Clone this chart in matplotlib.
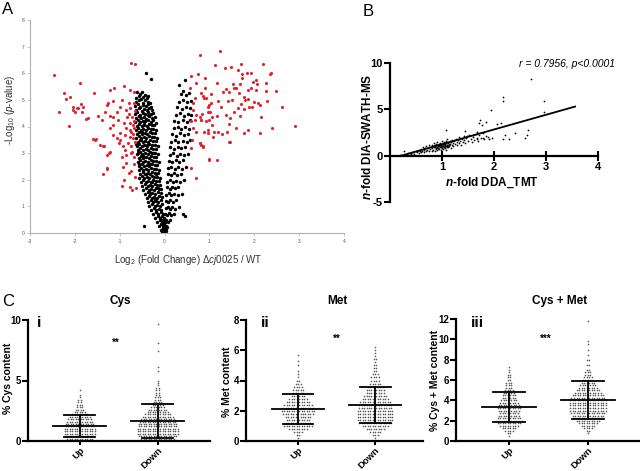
import numpy as np
import matplotlib
matplotlib.use('Agg')
import matplotlib.pyplot as plt

plt.rcParams['font.family'] = ['Liberation Sans', 'DejaVu Sans']
plt.rcParams['mathtext.fontset'] = 'custom'
plt.rcParams['mathtext.rm'] = 'Liberation Sans'
plt.rcParams['mathtext.it'] = 'Liberation Sans:italic'
plt.rcParams['mathtext.bf'] = 'Liberation Sans:italic:bold'
plt.rcParams['axes.unicode_minus'] = False

# ---------------- Panel A: volcano plot ----------------
red_right = [
    (1.23, 6.82), (1.13, 6.30), (1.34, 6.20), (1.48, 6.22), (1.71, 6.34), (2.20, 6.34), (1.63, 6.12),
    (1.73, 5.99), (1.83, 6.00), (1.93, 6.00), (2.34, 5.98), (2.38, 6.00), (1.73, 5.84), (1.17, 5.65),
    (1.52, 5.61), (1.68, 5.59), (1.97, 5.66), (2.03, 5.74), (2.07, 5.59), (2.26, 5.64), (0.91, 5.46),
    (1.37, 5.40), (1.54, 5.44), (1.59, 5.43), (1.86, 5.38), (1.93, 5.43), (2.04, 5.36), (2.26, 5.34),
    (2.49, 5.35), (1.30, 5.28), (1.44, 5.29), (1.65, 5.25), (1.03, 5.23), (0.85, 5.15), (0.93, 5.06),
    (1.19, 4.94), (1.41, 4.96), (1.51, 4.98), (1.77, 5.10), (1.80, 5.00), (1.87, 5.04), (1.99, 4.91),
    (2.08, 4.89), (2.12, 4.81), (2.29, 4.96), (1.04, 4.90), (1.71, 4.84), (1.78, 4.65), (1.89, 4.73),
    (1.95, 4.75), (1.63, 4.71), (2.61, 4.75), (0.97, 4.73), (1.26, 4.73), (1.01, 4.55), (1.05, 4.37),
    (1.17, 4.40), (1.37, 4.43), (1.46, 4.31), (1.55, 4.53), (1.69, 4.41), (2.16, 4.36), (0.84, 4.46),
    (0.82, 4.25), (1.00, 4.25), (1.06, 4.07), (1.43, 4.10), (1.60, 3.95), (1.86, 3.85), (1.76, 3.76),
    (2.40, 3.96), (2.91, 4.01), (2.12, 3.75), (1.28, 3.71), (1.39, 3.80), (1.43, 3.42), (1.46, 3.42),
    (0.78, 3.37), (0.82, 3.31), (0.85, 3.22), (0.98, 2.75), (1.17, 2.75), (1.08, 3.62), (0.97, 3.85),
    (0.97, 3.77), (1.11, 3.81), (1.19, 3.81),
    (0.79, 6.67), (0.59, 5.90), (0.74, 5.97), (0.90, 5.82), (0.70, 5.63), (0.56, 5.46), (0.82, 5.25),
    (0.67, 5.06), (0.89, 5.06), (1.00, 4.81), (0.63, 4.63), (0.70, 4.44), (0.78, 4.37), (0.59, 4.19),
    (0.67, 4.25), (0.82, 4.25), (0.93, 4.19), (0.63, 3.94), (0.70, 3.81), (0.89, 3.81), (0.61, 3.50),
    (0.78, 3.37), (0.85, 3.25), (0.59, 3.18), (0.98, 2.77), (0.59, 2.43), (0.70, 2.06), (0.63, 4.88),
    (0.96, 4.56),
]
red_left = [
    (-2.47, 5.93), (-0.75, 6.40), (-0.67, 6.35), (-1.89, 5.64), (-2.24, 5.25), (-2.20, 5.04), (-2.11, 5.09),
    (-1.58, 5.24), (-1.22, 5.38), (-1.12, 5.44), (-0.91, 5.53), (-0.76, 5.38), (-0.68, 5.28), (-2.35, 4.56),
    (-2.04, 4.75), (-2.04, 4.62), (-1.94, 4.71), (-1.85, 4.56), (-1.81, 4.75), (-1.86, 4.84), (-2.13, 4.02),
    (-1.70, 4.31), (-1.48, 4.40), (-1.40, 4.25), (-1.29, 4.81), (-1.26, 4.88), (-1.16, 4.96), (-0.95, 4.98),
    (-0.80, 4.88), (-0.77, 4.71), (-0.68, 4.88), (-1.33, 4.56), (-1.22, 4.41), (-1.14, 4.37), (-1.06, 4.56),
    (-1.00, 4.75), (-0.85, 4.62), (-0.80, 4.47), (-0.73, 4.37), (-1.03, 4.25), (-1.22, 3.94), (-0.90, 4.12),
    (-0.77, 4.12), (-0.68, 4.21), (-1.14, 4.06), (-0.85, 3.94), (-0.77, 3.87), (-0.68, 3.94), (-1.59, 3.52),
    (-1.55, 3.50), (-1.44, 3.31), (-1.37, 3.25), (-1.16, 3.69), (-1.07, 3.56), (-1.00, 3.75), (-0.89, 3.69),
    (-0.77, 3.62), (-0.70, 3.56), (-0.66, 3.43), (-1.01, 3.37), (-0.92, 3.25), (-0.81, 3.37), (-0.74, 3.25),
    (-1.22, 3.06), (-1.29, 2.93), (-1.23, 2.99), (-0.96, 2.87), (-0.85, 2.93), (-0.75, 2.99), (-0.68, 2.87),
    (-1.29, 2.43), (-1.38, 2.22), (-0.92, 2.49), (-0.85, 2.62), (-0.80, 2.27), (-0.74, 2.31), (-0.66, 2.12),
    (-0.95, 1.77), (-0.77, 1.74), (-0.73, 1.62), (-0.63, 1.68), (-0.91, 1.99), (-1.00, 3.50), (-0.74, 3.81),
    (-0.83, 4.35), (-1.95, 4.70), (-2.00, 4.55), (-1.75, 4.30), (-1.52, 3.52), (-1.35, 3.25), (-1.28, 2.40),
    (-0.70, 4.05), (-0.72, 3.05), (-0.69, 2.60), (-0.71, 3.70), (-0.88, 3.10), (-0.66, 4.60),
]
black_left = [
    (-0.62, 5.28), (-0.55, 5.21), (-0.50, 5.30), (-0.44, 5.18),
    (-0.64, 5.08), (-0.58, 5.13), (-0.52, 5.04), (-0.47, 5.12), (-0.40, 5.06), (-0.36, 5.15),
    (-0.63, 4.92), (-0.56, 4.98), (-0.49, 4.90), (-0.43, 4.99), (-0.37, 4.93), (-0.33, 4.88),
    (-0.66, 4.78), (-0.60, 4.84), (-0.54, 4.75), (-0.48, 4.82), (-0.42, 4.77), (-0.36, 4.85), (-0.30, 4.74),
    (-0.64, 4.62), (-0.58, 4.68), (-0.51, 4.60), (-0.46, 4.67), (-0.40, 4.63), (-0.34, 4.70), (-0.28, 4.61),
    (-0.66, 4.47), (-0.61, 4.53), (-0.55, 4.45), (-0.49, 4.52), (-0.44, 4.48), (-0.38, 4.55), (-0.31, 4.46), (-0.25, 4.51),
    (-0.63, 4.33), (-0.57, 4.38), (-0.52, 4.31), (-0.46, 4.37), (-0.41, 4.30), (-0.35, 4.39), (-0.29, 4.32), (-0.22, 4.36),
    (-0.65, 4.18), (-0.60, 4.24), (-0.54, 4.16), (-0.48, 4.22), (-0.43, 4.19), (-0.37, 4.25), (-0.31, 4.17), (-0.26, 4.23), (-0.20, 4.15),
    (-0.62, 4.03), (-0.57, 4.08), (-0.51, 4.01), (-0.45, 4.07), (-0.40, 4.02), (-0.34, 4.09), (-0.28, 4.04), (-0.23, 4.06),
    (-0.64, 3.88), (-0.59, 3.94), (-0.53, 3.86), (-0.47, 3.92), (-0.42, 3.87), (-0.36, 3.95), (-0.30, 3.89), (-0.25, 3.91), (-0.19, 3.85),
    (-0.61, 3.73), (-0.56, 3.78), (-0.50, 3.71), (-0.44, 3.77), (-0.39, 3.72), (-0.33, 3.79), (-0.27, 3.74), (-0.21, 3.76),
    (-0.63, 3.58), (-0.58, 3.64), (-0.52, 3.56), (-0.46, 3.62), (-0.41, 3.57), (-0.35, 3.65), (-0.29, 3.59), (-0.24, 3.61), (-0.17, 3.55),
    (-0.60, 3.43), (-0.55, 3.48), (-0.49, 3.41), (-0.43, 3.47), (-0.38, 3.42), (-0.32, 3.49), (-0.26, 3.44), (-0.20, 3.46),
    (-0.62, 3.28), (-0.57, 3.34), (-0.51, 3.26), (-0.45, 3.32), (-0.40, 3.27), (-0.34, 3.35), (-0.28, 3.29), (-0.22, 3.31), (-0.15, 3.25),
    (-0.59, 3.13), (-0.54, 3.18), (-0.48, 3.11), (-0.42, 3.17), (-0.37, 3.12), (-0.31, 3.19), (-0.25, 3.14), (-0.19, 3.16),
    (-0.61, 2.98), (-0.55, 3.04), (-0.50, 2.96), (-0.44, 3.02), (-0.38, 2.97), (-0.33, 3.05), (-0.27, 2.99), (-0.21, 3.01), (-0.14, 2.95),
    (-0.58, 2.83), (-0.52, 2.88), (-0.47, 2.81), (-0.41, 2.87), (-0.35, 2.82), (-0.30, 2.89), (-0.24, 2.84), (-0.18, 2.86),
    (-0.60, 2.68), (-0.54, 2.74), (-0.48, 2.66), (-0.43, 2.72), (-0.37, 2.67), (-0.31, 2.75), (-0.26, 2.69), (-0.20, 2.71), (-0.13, 2.65),
    (-0.56, 2.53), (-0.51, 2.58), (-0.45, 2.51), (-0.39, 2.57), (-0.34, 2.52), (-0.28, 2.59), (-0.22, 2.54), (-0.16, 2.56),
    (-0.58, 2.38), (-0.53, 2.44), (-0.47, 2.36), (-0.41, 2.42), (-0.36, 2.37), (-0.30, 2.45), (-0.24, 2.39), (-0.18, 2.41), (-0.12, 2.35),
    (-0.55, 2.23), (-0.49, 2.28), (-0.44, 2.21), (-0.38, 2.27), (-0.32, 2.22), (-0.27, 2.29), (-0.21, 2.24), (-0.15, 2.26),
    (-0.57, 2.08), (-0.51, 2.14), (-0.45, 2.06), (-0.40, 2.12), (-0.34, 2.07), (-0.28, 2.15), (-0.23, 2.09), (-0.17, 2.11), (-0.10, 2.05),
    (-0.53, 1.93), (-0.48, 1.98), (-0.42, 1.91), (-0.36, 1.97), (-0.31, 1.92), (-0.25, 1.99), (-0.19, 1.94), (-0.13, 1.96),
    (-0.50, 1.78), (-0.44, 1.84), (-0.38, 1.76), (-0.33, 1.82), (-0.27, 1.77), (-0.21, 1.85), (-0.16, 1.79), (-0.10, 1.81),
    (-0.47, 1.63), (-0.41, 1.68), (-0.35, 1.61), (-0.30, 1.67), (-0.24, 1.62), (-0.18, 1.69), (-0.12, 1.64), (-0.07, 1.66),
    (-0.44, 1.48), (-0.38, 1.54), (-0.32, 1.46), (-0.27, 1.52), (-0.21, 1.47), (-0.15, 1.55), (-0.09, 1.49),
    (-0.40, 1.33), (-0.34, 1.38), (-0.29, 1.31), (-0.23, 1.37), (-0.17, 1.32), (-0.12, 1.39), (-0.06, 1.34),
    (-0.37, 1.18), (-0.31, 1.24), (-0.25, 1.16), (-0.20, 1.22), (-0.14, 1.17), (-0.08, 1.25),
    (-0.34, 1.03), (-0.28, 1.08), (-0.22, 1.01), (-0.16, 1.07), (-0.10, 1.02), (-0.05, 1.09),
    (-0.30, 0.88), (-0.24, 0.94), (-0.18, 0.86), (-0.12, 0.92), (-0.07, 0.87),
    (-0.26, 0.73), (-0.20, 0.78), (-0.14, 0.71), (-0.09, 0.77), (-0.04, 0.72),
    (-0.21, 0.58), (-0.15, 0.63), (-0.10, 0.56), (-0.05, 0.62), (-0.02, 0.57),
    (-0.16, 0.43), (-0.11, 0.48), (-0.06, 0.41), (-0.03, 0.47),
    (-0.12, 0.28), (-0.07, 0.33), (-0.03, 0.26), (-0.01, 0.31),
    (-0.08, 0.13), (-0.04, 0.18), (-0.02, 0.11), (0.00, 0.16),
    (-0.05, 0.04), (-0.02, 0.07), (0.00, 0.02), (0.02, 0.05),
    (-0.41, 6.00), (-0.30, 5.78), (-0.46, 0.26),
    (-0.03, 0.10), (0.03, 0.15), (-0.01, 0.35), (0.01, 0.45), (0.00, 0.25), (-0.04, 0.20),
    (-0.57, 4.40), (-0.45, 4.10), (-0.53, 3.50), (-0.39, 3.30), (-0.47, 2.90), (-0.33, 2.60),
    (-0.42, 2.20), (-0.29, 1.90), (-0.35, 1.55), (-0.22, 1.25), (-0.59, 3.00), (-0.50, 3.80),
    (-0.36, 4.45), (-0.26, 3.00), (-0.19, 2.20), (-0.15, 1.70), (-0.64, 3.35), (-0.56, 2.60),
]
black_right = [
    (0.36, 5.22), (0.48, 5.17), (0.55, 5.25),
    (0.32, 4.93), (0.42, 4.99), (0.51, 4.91), (0.58, 4.97),
    (0.28, 4.72), (0.38, 4.66), (0.47, 4.74), (0.56, 4.68),
    (0.25, 4.43), (0.35, 4.49), (0.44, 4.41), (0.52, 4.47), (0.59, 4.42),
    (0.22, 4.22), (0.31, 4.16), (0.40, 4.24), (0.49, 4.18), (0.57, 4.23),
    (0.20, 3.93), (0.29, 3.99), (0.37, 3.91), (0.46, 3.97), (0.55, 3.92),
    (0.17, 3.72), (0.26, 3.66), (0.34, 3.74), (0.43, 3.68), (0.52, 3.73),
    (0.15, 3.43), (0.23, 3.49), (0.31, 3.41), (0.40, 3.47), (0.49, 3.42), (0.56, 3.48),
    (0.13, 3.22), (0.21, 3.16), (0.29, 3.24), (0.37, 3.18), (0.46, 3.23),
    (0.11, 2.93), (0.19, 2.99), (0.27, 2.91), (0.35, 2.97), (0.44, 2.92), (0.53, 2.98),
    (0.10, 2.72), (0.17, 2.66), (0.25, 2.74), (0.33, 2.68), (0.41, 2.73),
    (0.08, 2.43), (0.15, 2.49), (0.23, 2.41), (0.31, 2.47), (0.39, 2.42), (0.48, 2.48),
    (0.07, 2.22), (0.14, 2.16), (0.21, 2.24), (0.28, 2.18), (0.36, 2.23),
    (0.06, 1.93), (0.12, 1.99), (0.19, 1.91), (0.26, 1.97), (0.34, 1.92), (0.43, 1.98),
    (0.05, 1.72), (0.11, 1.66), (0.17, 1.74), (0.24, 1.68), (0.31, 1.73),
    (0.04, 1.43), (0.09, 1.49), (0.15, 1.41), (0.22, 1.47), (0.29, 1.42), (0.38, 1.48),
    (0.03, 1.22), (0.08, 1.16), (0.13, 1.24), (0.19, 1.18), (0.26, 1.23),
    (0.03, 0.93), (0.07, 0.99), (0.11, 0.91), (0.17, 0.97), (0.23, 0.92), (0.33, 0.98),
    (0.02, 0.72), (0.05, 0.66), (0.09, 0.74), (0.14, 0.68), (0.20, 0.73), (0.42, 0.70),
    (0.02, 0.43), (0.04, 0.49), (0.07, 0.41), (0.11, 0.47), (0.45, 0.62),
    (0.01, 0.23), (0.03, 0.28), (0.05, 0.21),
    (0.01, 0.08), (0.02, 0.12), (0.04, 0.06),
    (0.45, 5.75), (0.33, 5.55), (0.40, 5.32),
]
volcano_xticks = [-3, -2, -1, 0, 1, 2, 3, 4]
volcano_yticks = [0, 1, 2, 3, 4, 5, 6, 7, 8]

# ---------------- Panel B: correlation ----------------
corr_points = [
    (0.19, 0.02), (0.22, 0.05), (0.26, 0.55), (0.30, 0.15), (0.33, 0.10), (0.35, 0.25), (0.38, 0.30),
    (0.40, 0.18), (0.42, 0.40), (0.45, 0.35), (0.47, 0.22), (0.50, 0.50), (0.52, 0.38), (0.55, 0.30),
    (0.55, 0.60), (0.58, 0.45), (0.60, 0.70), (0.60, 0.35), (0.62, 0.55), (0.63, 0.90), (0.65, 0.40),
    (0.66, 0.65), (0.68, 0.80), (0.70, 0.50), (0.70, 1.00), (0.72, 0.62), (0.73, 0.85), (0.75, 0.45),
    (0.75, 1.10), (0.77, 0.70), (0.78, 0.95), (0.80, 0.55), (0.80, 1.20), (0.81, 0.80), (0.82, 1.00),
    (0.83, 0.65), (0.84, 1.35), (0.85, 0.90), (0.86, 0.50), (0.87, 1.10), (0.88, 0.75), (0.89, 1.25),
    (0.90, 0.95), (0.90, 0.60), (0.91, 1.50), (0.92, 1.05), (0.93, 0.80), (0.94, 1.30), (0.95, 0.70),
    (0.95, 1.15), (0.96, 0.90), (0.97, 1.40), (0.98, 1.00), (0.98, 0.65), (0.99, 1.20), (1.00, 0.85),
    (1.00, 1.55), (1.01, 1.05), (1.02, 0.75), (1.02, 1.30), (1.03, 0.95), (1.04, 1.45), (1.05, 1.10),
    (1.05, 0.80), (1.06, 1.25), (1.07, 0.60), (1.07, 1.00), (1.08, 1.60), (1.08, 1.35), (1.09, 0.90),
    (1.10, 1.15), (1.10, 1.75), (1.11, 1.40), (1.12, 0.95), (1.13, 1.25), (1.14, 1.05), (1.15, 1.55),
    (1.16, 1.30), (1.17, 0.85), (1.18, 1.45), (1.19, 1.15), (1.20, 1.70), (1.21, 1.35), (1.22, 1.00),
    (1.23, 1.55), (1.25, 1.25), (1.26, 1.85), (1.28, 1.45), (1.29, 1.10), (1.30, 1.65), (1.32, 1.35),
    (1.33, 2.00), (1.35, 1.55), (1.37, 1.20), (1.38, 1.80), (1.40, 1.50), (1.42, 2.10), (1.43, 1.70),
    (1.45, 1.35), (1.47, 1.95), (1.50, 1.60), (1.52, 2.20), (1.55, 1.80), (1.57, 1.45), (1.60, 2.05),
    (1.62, 1.70), (1.65, 2.35), (1.68, 1.90), (1.70, 1.60), (1.72, 2.20), (1.75, 1.95), (1.78, 2.45),
    (1.80, 1.75), (1.85, 2.15), (1.90, 1.85),
    (0.85, 1.05), (0.88, 1.15), (0.92, 0.85), (0.94, 1.00), (0.97, 1.10), (0.99, 0.90), (1.01, 1.15),
    (1.03, 1.25), (1.04, 0.90), (1.06, 1.05), (1.09, 1.20), (1.11, 1.00), (0.96, 1.25), (0.91, 1.10),
    (0.87, 0.95), (1.13, 1.10), (1.00, 1.00), (0.93, 1.20), (1.05, 1.35), (0.89, 0.85),
    (1.08, 2.73), (1.44, 2.62), (1.67, 2.60), (1.49, 2.10), (1.68, 1.84), (1.79, 1.90), (1.89, 2.00),
    (1.60, 2.20),
    (2.72, 8.30), (2.18, 6.30), (2.18, 5.90), (2.96, 5.85), (1.95, 4.95), (2.96, 4.70), (1.73, 3.80),
    (1.76, 3.35), (1.72, 3.56), (1.85, 3.63), (2.05, 3.45), (2.13, 3.57), (2.21, 2.20), (2.18, 1.83),
    (2.29, 1.83), (2.40, 2.48), (2.60, 1.90), (2.66, 2.72), (2.63, 2.19), (1.97, 1.90),
]
fit_x = [0.22, 3.56]
fit_y = [0.0, 5.3]
corr_text = 'r = 0.7956, p<0.0001'

# ---------------- Panel C: Cys / Met content ----------------
groups = ['Up', 'Down']

cys_up_levels = [0.0, 0.2, 0.4, 0.6, 0.8, 1.0, 1.2, 1.4, 1.6, 1.8, 2.0, 2.2, 2.4, 2.6, 2.8, 3.0, 3.2, 3.4, 3.6, 3.8, 4.2]
cys_up_counts = [8, 11, 12, 13, 13, 13, 12, 12, 11, 10, 9, 7, 5, 4, 3, 3, 2, 2, 1, 1, 1]
cys_down_levels = [0.0, 0.2, 0.4, 0.6, 0.8, 1.0, 1.2, 1.4, 1.6, 1.8, 2.0, 2.2, 2.4, 2.6, 2.8, 3.0, 3.2,
                   3.4, 3.6, 3.8, 4.0, 4.2, 4.4, 4.6, 4.8, 5.0, 5.8, 6.1, 7.4, 8.1, 9.7]
cys_down_counts = [10, 14, 16, 17, 17, 17, 16, 16, 15, 14, 13, 11, 9, 8, 6, 5, 4,
                   3, 3, 2, 2, 2, 2, 1, 1, 1, 1, 1, 1, 1, 1]
met_up_levels = [0.2, 0.4, 0.6, 0.8, 1.0, 1.2, 1.4, 1.6, 1.8, 2.0, 2.2, 2.4, 2.6, 2.8, 3.0, 3.2, 3.4,
                 3.6, 3.8, 4.0, 4.2, 4.4, 4.6, 5.0, 5.3, 5.7]
met_up_counts = [1, 2, 4, 8, 12, 11, 10, 11, 13, 14, 13, 12, 10, 8, 6, 5, 5, 4, 3, 2, 1, 1, 1, 1, 1, 1]
met_down_levels = [0.2, 0.4, 0.6, 0.8, 1.0, 1.2, 1.4, 1.6, 1.8, 2.0, 2.2, 2.4, 2.6, 2.8, 3.0, 3.2, 3.4,
                   3.6, 3.8, 4.0, 4.2, 4.4, 4.6, 4.8, 5.0, 5.2, 5.4, 5.6, 5.8, 6.0, 6.2]
met_down_counts = [1, 3, 5, 8, 11, 14, 15, 15, 15, 15, 14, 14, 13, 11, 10, 8, 8,
                   7, 5, 4, 4, 3, 2, 2, 2, 1, 2, 1, 1, 1, 1]
cm_up_levels = [0.5, 0.75, 1.0, 1.25, 1.5, 1.75, 2.0, 2.25, 2.5, 2.75, 3.0, 3.25, 3.5, 3.75, 4.0,
                4.25, 4.5, 4.75, 5.0, 5.25, 5.5, 5.75, 6.0, 6.25, 6.5, 6.75, 7.0, 7.25]
cm_up_counts = [1, 2, 4, 6, 8, 10, 11, 10, 9, 8, 9, 10, 9, 8, 7, 6, 6, 5, 4, 3, 3, 3, 2, 2, 2, 1, 1, 1]
cm_down_levels = [0.75, 1.0, 1.25, 1.5, 1.75, 2.0, 2.25, 2.5, 2.75, 3.0, 3.25, 3.5, 3.75, 4.0, 4.25,
                  4.5, 4.75, 5.0, 5.25, 5.5, 5.75, 6.0, 6.25, 6.5, 6.75, 7.0, 7.5, 8.0, 8.5, 9.0,
                  9.5, 9.8, 11.8]
cm_down_counts = [1, 2, 4, 6, 8, 10, 12, 13, 14, 15, 15, 15, 15, 15, 14, 13, 11, 10, 8, 7, 6, 5, 4,
                  3, 3, 2, 2, 2, 1, 1, 1, 1, 1]

cys_mean = [1.24, 1.65]
cys_sd = [0.90, 1.40]
met_mean = [2.10, 2.38]
met_sd = [1.00, 1.20]
cm_mean = [3.33, 4.02]
cm_sd = [1.47, 1.87]

# ---------------- Figure ----------------
fig = plt.figure(figsize=(6.4, 4.71), dpi=100)

# Panel A
axA = fig.add_axes([30 / 640, 1 - 233 / 471, 314 / 640, 213 / 471])
bx = [p[0] for p in black_left + black_right]
by = [p[1] for p in black_left + black_right]
rx = [p[0] for p in red_left + red_right]
ry = [p[1] for p in red_left + red_right]
axA.scatter(bx, by, s=6, c='black', lw=0, zorder=2)
axA.scatter(rx, ry, s=5, c='#e3222b', lw=0, zorder=3)
axA.set_xlim(-3, 4)
axA.set_ylim(0, 8)
axA.set_xticks(volcano_xticks)
axA.set_yticks(volcano_yticks)
for s in ['top', 'right']:
    axA.spines[s].set_visible(False)
for s in ['left', 'bottom']:
    axA.spines[s].set_color('#b0b0b0')
    axA.spines[s].set_linewidth(0.8)
axA.tick_params(labelsize=3.5, color='#b0b0b0', labelcolor='#555555', length=2, width=0.5, pad=2)
axA.set_ylabel('-Log$_{10}$ ($\\mathit{p}$-value)', fontsize=7, color='#333333')
axA.yaxis.set_label_coords(-0.041, 0.577)
axA.set_xlabel('Log$_2$ (Fold Change) Δ$\\mathit{cj0025}$ / WT', fontsize=7, color='#333333')
axA.xaxis.set_label_coords(0.503, -0.095)

# Panel B
axB = fig.add_axes([390 / 640, 1 - 202 / 471, 208 / 640, 139 / 471])
cx = [p[0] for p in corr_points]
cy = [p[1] for p in corr_points]
axB.scatter(cx, cy, s=1.6, c='black', lw=0, zorder=2)
axB.plot(fit_x, fit_y, color='black', lw=1.3, zorder=3)
axB.set_xlim(0, 4)
axB.set_ylim(-5, 10)
axB.spines['top'].set_visible(False)
axB.spines['right'].set_visible(False)
axB.spines['bottom'].set_position(('data', 0))
axB.spines['left'].set_linewidth(1.6)
axB.spines['bottom'].set_linewidth(1.6)
axB.set_xticks([1, 2, 3, 4])
axB.set_yticks([-5, 0, 5, 10])
axB.tick_params(axis='x', direction='inout', length=7, width=1.5, labelsize=8, pad=1)
axB.tick_params(axis='y', direction='out', length=4, width=1.5, labelsize=8, pad=1)
for lab in axB.get_xticklabels() + axB.get_yticklabels():
    lab.set_fontweight('bold')
axB.text(4.33, 9.9, corr_text, fontsize=7.5, style='italic', ha='right', va='center', clip_on=False)
axB.set_xlabel('$\\mathbf{n}$-fold DDA_TMT', fontsize=8.5, fontweight='bold')
axB.xaxis.set_label_coords(0.49, 0.19)
axB.set_ylabel('$\\mathbf{n}$-fold DIA-SWATH-MS', fontsize=8.5, fontweight='bold')
axB.yaxis.set_label_coords(-0.075, 0.47)

# Panel C
def swarm(ax, pos, levels, counts, dx):
    xs, ys = [], []
    for lv, n in zip(levels, counts):
        for k in range(n):
            xs.append(pos + (k - (n - 1) / 2) * dx)
            ys.append(lv)
    ax.scatter(xs, ys, s=1.4, c='#5a5a5a', lw=0, zorder=2)

def meansd(ax, pos, m, sd):
    ax.plot([pos - 0.34, pos + 0.34], [m, m], color='black', lw=1.3, zorder=3)
    ax.plot([pos - 0.2, pos + 0.2], [m + sd, m + sd], color='black', lw=1.3, zorder=3)
    ax.plot([pos - 0.2, pos + 0.2], [m - sd, m - sd], color='black', lw=1.3, zorder=3)
    ax.plot([pos, pos], [m - sd, m + sd], color='black', lw=1.3, zorder=3)

panels = [
    dict(rect=[28 / 640, 1 - 441 / 471, 182 / 640, 121 / 471], xlim=(-0.66, 1.67), ylim=(0, 10),
         yticks=[0, 5, 10], data=[(cys_up_levels, cys_up_counts), (cys_down_levels, cys_down_counts)],
         mean=cys_mean, sd=cys_sd, ylabel='% Cys content', ylab=(-0.085, 0.52), stars='**',
         star_xy=(0.47, 8.1), dx=0.032),
    dict(rect=[246 / 640, 1 - 441 / 471, 177 / 640, 121 / 471], xlim=(-0.675, 1.62), ylim=(0, 8),
         yticks=[0, 2, 4, 6, 8], data=[(met_up_levels, met_up_counts), (met_down_levels, met_down_counts)],
         mean=met_mean, sd=met_sd, ylabel='% Met content', ylab=(-0.08, 0.49), stars='**',
         star_xy=(0.5, 6.75), dx=0.032),
    dict(rect=[456 / 640, 1 - 441 / 471, 184 / 640, 122 / 471], xlim=(-0.67, 1.66), ylim=(0, 12),
         yticks=[0, 2, 4, 6, 8, 10, 12], data=[(cm_up_levels, cm_up_counts), (cm_down_levels, cm_down_counts)],
         mean=cm_mean, sd=cm_sd, ylabel='% Cys + Met content', ylab=(-0.088, 0.5), stars='***',
         star_xy=(0.47, 10.0), dx=0.032),
]

for p in panels:
    ax = fig.add_axes(p['rect'])
    for i, (lv, ct) in enumerate(p['data']):
        swarm(ax, i, lv, ct, p['dx'])
        meansd(ax, i, p['mean'][i], p['sd'][i])
    ax.set_xlim(*p['xlim'])
    ax.set_ylim(*p['ylim'])
    ax.set_yticks(p['yticks'])
    ax.set_xticks([0, 1])
    ax.set_xticklabels(groups, rotation=45, ha='right', va='top', rotation_mode='anchor')
    ax.spines['top'].set_visible(False)
    ax.spines['right'].set_visible(False)
    ax.spines['left'].set_linewidth(1.6)
    ax.spines['bottom'].set_linewidth(1.6)
    ax.tick_params(axis='y', direction='out', length=4, width=1.5, labelsize=7, pad=1)
    ax.tick_params(axis='x', direction='out', length=3, width=1.5, labelsize=6.8, pad=0.5)
    for lab in ax.get_xticklabels() + ax.get_yticklabels():
        lab.set_fontweight('bold')
    ax.set_ylabel(p['ylabel'], fontsize=7.5, fontweight='bold')
    ax.yaxis.set_label_coords(*p['ylab'])
    ax.text(p['star_xy'][0], p['star_xy'][1], p['stars'], fontsize=7, fontweight='bold',
            ha='center', va='center')

fig.text(120 / 640, 1 - 301 / 471, 'Cys', fontsize=8.5, fontweight='bold', ha='center', va='center')
fig.text(337 / 640, 1 - 301 / 471, 'Met', fontsize=8.5, fontweight='bold', ha='center', va='center')
fig.text(560 / 640, 1 - 301 / 471, 'Cys + Met', fontsize=8.5, fontweight='bold', ha='center', va='center')
fig.text(39 / 640, 1 - 323 / 471, 'i', fontsize=11, fontweight='bold', ha='center', va='center')
fig.text(265 / 640, 1 - 323 / 471, 'ii', fontsize=11, fontweight='bold', ha='center', va='center')
fig.text(477 / 640, 1 - 323 / 471, 'iii', fontsize=11, fontweight='bold', ha='center', va='center')

fig.text(8 / 640, 1 - 9 / 471, 'A', fontsize=12, ha='center', va='center')
fig.text(368 / 640, 1 - 11 / 471, 'B', fontsize=12, ha='center', va='center')
fig.text(8 / 640, 1 - 301 / 471, 'C', fontsize=12, ha='center', va='center')

fig.savefig('out.png', dpi=100)
